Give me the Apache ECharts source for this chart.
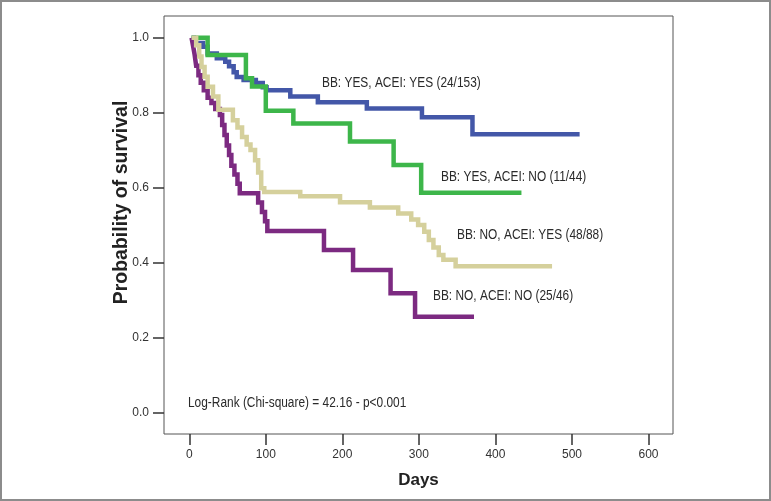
<!DOCTYPE html>
<html><head><meta charset="utf-8">
<script src="https://cdn.jsdelivr.net/npm/echarts@6/dist/echarts.min.js"></script>
<style>html,body{margin:0;padding:0;background:#fff}#c{width:771px;height:501px}</style>
</head><body><div id="c"></div>
<script>
// Tick values
const xTicks = [0, 100, 200, 300, 400, 500, 600];
const yTicks = [0, 0.2, 0.4, 0.6, 0.8, 1.0];

// Group labels
const groupNames = [
  'BB: YES, ACEI: YES (24/153)',
  'BB: YES, ACEI: NO (11/44)',
  'BB: NO, ACEI: YES (48/88)',
  'BB: NO, ACEI: NO (25/46)'
];
const testText = 'Log-Rank (Chi-square) = 42.16 - p<0.001';

// BB: YES, ACEI: YES
const yyDays = [3, 6, 18, 24, 36, 47, 52, 58, 62, 71, 87, 96, 101, 132, 168, 232, 304, 370, 510];
const yySurv = [1.0, 0.986, 0.976, 0.958, 0.945, 0.936, 0.924, 0.908, 0.895, 0.887, 0.879, 0.868, 0.860, 0.843, 0.828, 0.811, 0.788, 0.742, 0.742];

// BB: YES, ACEI: NO
const ynDays = [3, 24, 74, 82, 100, 136, 210, 267, 303, 434];
const ynSurv = [1.0, 0.954, 0.892, 0.870, 0.805, 0.771, 0.723, 0.660, 0.586, 0.586];

// BB: NO, ACEI: YES
const nyDays = [3, 9, 13, 16, 20, 24, 31, 38, 57, 63, 69, 75, 80, 86, 90, 94, 98, 145, 197, 236, 273, 290, 299, 307, 313, 319, 326, 332, 348, 474];
const nySurv = [1.0, 0.980, 0.950, 0.922, 0.896, 0.869, 0.843, 0.808, 0.780, 0.760, 0.735, 0.715, 0.700, 0.673, 0.640, 0.598, 0.588, 0.577, 0.561, 0.547, 0.531, 0.515, 0.500, 0.482, 0.460, 0.440, 0.420, 0.407, 0.390, 0.390];

// BB: NO, ACEI: NO
const nnDays = [3, 5, 7, 9, 12, 15, 19, 24, 29, 34, 40, 43, 46, 49, 52, 55, 59, 63, 66, 90, 95, 99, 102, 176, 214, 263, 295, 372];
const nnSurv = [1.0, 0.978, 0.955, 0.925, 0.900, 0.880, 0.860, 0.840, 0.826, 0.810, 0.794, 0.767, 0.740, 0.712, 0.687, 0.658, 0.635, 0.610, 0.585, 0.560, 0.535, 0.510, 0.484, 0.433, 0.380, 0.318, 0.255, 0.255];

const colors = ['#4357a8', '#3db64a', '#d5d09c', '#7c2a81'];
const F = '"Liberation Sans",Arial,sans-serif';

function pairs(t, s) { return t.map((d, i) => [d, s[i]]); }

const groups = [
  { name: groupNames[0], data: pairs(yyDays, yySurv), color: colors[0] },
  { name: groupNames[1], data: pairs(ynDays, ynSurv), color: colors[1] },
  { name: groupNames[3], data: pairs(nnDays, nnSurv), color: colors[3] },
  { name: groupNames[2], data: pairs(nyDays, nySurv), color: colors[2] }
];

function note(text, x, y) {
  return { type: 'text', x: x, y: y, scaleX: 0.85, silent: true,
    style: { text: text, fontFamily: F, fontSize: 14, fill: '#2a2a2a', verticalAlign: 'middle' } };
}

const chart = echarts.init(document.getElementById('c'), null, { renderer: 'canvas' });
chart.setOption({
  animation: false,
  backgroundColor: '#fff',
  grid: { left: 164, top: 16, width: 509, height: 418, show: true, borderColor: '#555', borderWidth: 1 },
  xAxis: {
    type: 'value', min: -33, max: 632,
    splitLine: { show: false },
    axisLine: { show: false, onZero: false },
    axisTick: { show: true, customValues: xTicks, length: 11, lineStyle: { color: '#333', width: 1.5 } },
    axisLabel: { customValues: xTicks, margin: 15, fontFamily: F, fontSize: 12, color: '#333' },
    name: 'Days', nameLocation: 'middle', nameGap: 38, nameMoveOverlap: false,
    nameTextStyle: { fontFamily: F, fontSize: 17, fontWeight: 'bold', color: '#222' }
  },
  yAxis: {
    type: 'value', min: -0.058, max: 1.058,
    splitLine: { show: false },
    axisLine: { show: false, onZero: false },
    axisTick: { show: true, customValues: yTicks, length: 11, lineStyle: { color: '#333', width: 1.5 } },
    axisLabel: { customValues: yTicks, margin: 15, fontFamily: F, fontSize: 12, color: '#333', formatter: v => v.toFixed(1) },
    name: 'Probability of survival', nameLocation: 'middle', nameGap: 32, nameMoveOverlap: false,
    nameTextStyle: { fontFamily: F, fontSize: 19.5, fontWeight: 'bold', color: '#222', padding: [0, 0, 0, 45] }
  },
  series: groups.map(g => ({
    type: 'line', name: g.name, step: 'end', data: g.data,
    showSymbol: false, symbol: 'none',
    lineStyle: { color: g.color, width: 4.5, cap: 'butt', join: 'miter' },
    itemStyle: { color: g.color }
  })),
  graphic: [
    { type: 'rect', silent: true, shape: { x: 1, y: 1, width: 769, height: 499 }, style: { fill: 'transparent', stroke: '#8c8c8c', lineWidth: 2 } },
    note(groupNames[0], 322, 83),
    note(groupNames[1], 441, 177),
    note(groupNames[2], 457, 235),
    note(groupNames[3], 433, 296),
    note(testText, 188, 403)
  ]
});
</script></body></html>
